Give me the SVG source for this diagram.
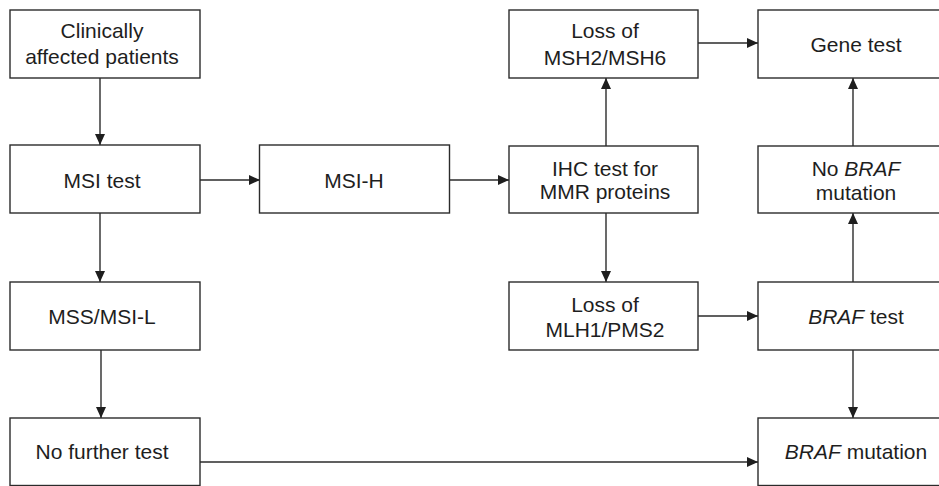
<svg xmlns="http://www.w3.org/2000/svg" width="939" height="486" viewBox="0 0 939 486">
  <style>
    .box { fill: #ffffff; stroke: #2b2b2b; stroke-width: 1.4; }
    .lbl { font-family: "Liberation Sans", Arial, sans-serif; font-size: 21px; fill: #1e1e1e; text-anchor: middle; }
    .conn { fill: none; stroke: #2b2b2b; stroke-width: 1.4; marker-end: url(#arrow); }
  </style>
  <defs>
    <marker id="arrow" markerUnits="userSpaceOnUse" markerWidth="12" markerHeight="11" refX="11" refY="5" orient="auto">
      <path d="M0,0 L11,5 L0,10 Z" fill="#1e1e1e"/>
    </marker>
  </defs>
  <rect width="939" height="486" fill="#ffffff"/>

  <g id="connectors">
    <path class="conn" d="M100,78 V145"/>
    <path class="conn" d="M100,213 V282"/>
    <path class="conn" d="M101,350 V418"/>
    <path class="conn" d="M200,180 H260"/>
    <path class="conn" d="M450,180 H509"/>
    <path class="conn" d="M606,146 V78"/>
    <path class="conn" d="M606,213 V282"/>
    <path class="conn" d="M698,43 H758"/>
    <path class="conn" d="M698,316 H758"/>
    <path class="conn" d="M853,282 V213"/>
    <path class="conn" d="M853,146 V78"/>
    <path class="conn" d="M853,350 V418"/>
    <path class="conn" d="M200,462 H758"/>
  </g>

  <g id="clinically-affected">
    <rect class="box" x="10" y="10" width="190" height="68"/>
    <text class="lbl" x="102" y="37.5">Clinically</text>
    <text class="lbl" x="102" y="63.5">affected patients</text>
  </g>
  <g id="msi-test">
    <rect class="box" x="10" y="145" width="190" height="68"/>
    <text class="lbl" x="102" y="188">MSI test</text>
  </g>
  <g id="mss-msi-l">
    <rect class="box" x="10" y="282" width="190" height="68"/>
    <text class="lbl" x="102" y="324">MSS/MSI-L</text>
  </g>
  <g id="no-further-test">
    <rect class="box" x="10" y="418" width="190" height="67.5"/>
    <text class="lbl" x="102" y="459">No further test</text>
  </g>
  <g id="msi-h">
    <rect class="box" x="259.5" y="145" width="190" height="68"/>
    <text class="lbl" x="354" y="188">MSI-H</text>
  </g>
  <g id="loss-msh2-msh6">
    <rect class="box" x="509" y="10" width="189" height="68"/>
    <text class="lbl" x="605" y="38">Loss of</text>
    <text class="lbl" x="605" y="64.5">MSH2/MSH6</text>
  </g>
  <g id="ihc-test">
    <rect class="box" x="509" y="146" width="189" height="67"/>
    <text class="lbl" x="605" y="175.5">IHC test for</text>
    <text class="lbl" x="605" y="199">MMR proteins</text>
  </g>
  <g id="loss-mlh1-pms2">
    <rect class="box" x="509" y="282" width="189" height="68"/>
    <text class="lbl" x="605" y="311.5">Loss of</text>
    <text class="lbl" x="605" y="336.5">MLH1/PMS2</text>
  </g>
  <g id="gene-test">
    <rect class="box" x="758" y="10" width="190" height="68"/>
    <text class="lbl" x="856" y="51.5">Gene test</text>
  </g>
  <g id="no-braf-mutation">
    <rect class="box" x="758" y="146" width="190" height="67"/>
    <text class="lbl" x="856" y="175.5">No <tspan font-style="italic">BRAF</tspan></text>
    <text class="lbl" x="856" y="200">mutation</text>
  </g>
  <g id="braf-test">
    <rect class="box" x="758" y="282" width="190" height="68"/>
    <text class="lbl" x="856" y="324"><tspan font-style="italic">BRAF</tspan> test</text>
  </g>
  <g id="braf-mutation">
    <rect class="box" x="758" y="418" width="190" height="67.5"/>
    <text class="lbl" x="856" y="459"><tspan font-style="italic">BRAF</tspan> mutation</text>
  </g>
</svg>
